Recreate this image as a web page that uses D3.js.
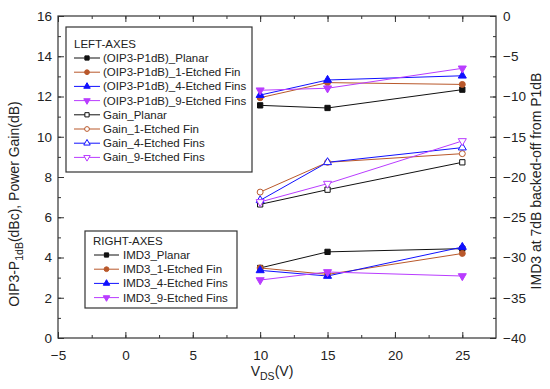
<!DOCTYPE html>
<html>
<head>
<meta charset="utf-8">
<script src="https://cdn.jsdelivr.net/npm/d3@7"></script>
<style>
  body { margin: 0; background: #fff; }
  svg text { font-family: Arial, "Liberation Sans", sans-serif; fill: #222; }
</style>
</head>
<body>
<div id="chart"></div>
<script>
// x values (V_DS)
const vds = [10, 15, 25];

// left axis series: OIP3-P1dB and gain
const oip3Planar = [11.56, 11.43, 12.34];
const oip3Fin1 = [11.94, 12.69, 12.60];
const oip3Fin4 = [12.07, 12.82, 13.03];
const oip3Fin9 = [12.31, 12.41, 13.40];
const gainPlanar = [6.64, 7.37, 8.73];
const gainFin1 = [7.25, 8.73, 9.16];
const gainFin4 = [6.84, 8.73, 9.46];
const gainFin9 = [6.76, 7.67, 9.79];

// right axis series: IMD3
const imd3Planar = [-31.3, -29.3, -28.9];
const imd3Fin1 = [-31.3, -32.1, -29.5];
const imd3Fin4 = [-31.6, -32.3, -28.7];
const imd3Fin9 = [-32.8, -31.8, -32.3];

const xTicks = [-5, 0, 5, 10, 15, 20, 25];
const leftTicks = [0, 2, 4, 6, 8, 10, 12, 14, 16];
const rightTicks = [0, -5, -10, -15, -20, -25, -30, -35, -40];

const BLACK = '#111', BROWN = '#b9582b', BLUE = '#1010ff', VIOLET = '#b93cff';

const leftSeries = [
  { name: '(OIP3-P1dB)_Planar', values: oip3Planar, color: BLACK, shape: 'square', filled: true },
  { name: '(OIP3-P1dB)_1-Etched Fin', values: oip3Fin1, color: BROWN, shape: 'circle', filled: true },
  { name: '(OIP3-P1dB)_4-Etched Fins', values: oip3Fin4, color: BLUE, shape: 'up', filled: true },
  { name: '(OIP3-P1dB)_9-Etched Fins', values: oip3Fin9, color: VIOLET, shape: 'down', filled: true },
  { name: 'Gain_Planar', values: gainPlanar, color: BLACK, shape: 'square', filled: false },
  { name: 'Gain_1-Etched Fin', values: gainFin1, color: BROWN, shape: 'circle', filled: false },
  { name: 'Gain_4-Etched Fins', values: gainFin4, color: BLUE, shape: 'up', filled: false },
  { name: 'Gain_9-Etched Fins', values: gainFin9, color: VIOLET, shape: 'down', filled: false }
];
const rightSeries = [
  { name: 'IMD3_Planar', values: imd3Planar, color: BLACK, shape: 'square', filled: true },
  { name: 'IMD3_1-Etched Fin', values: imd3Fin1, color: BROWN, shape: 'circle', filled: true },
  { name: 'IMD3_4-Etched Fins', values: imd3Fin4, color: BLUE, shape: 'up', filled: true },
  { name: 'IMD3_9-Etched Fins', values: imd3Fin9, color: VIOLET, shape: 'down', filled: true }
];

const width = 550, height = 389;
const margin = { top: 16, right: 54, bottom: 51, left: 58 };
const plotW = width - margin.left - margin.right;
const plotH = height - margin.top - margin.bottom;

const svg = d3.select('#chart').append('svg')
  .attr('width', width)
  .attr('height', height);

const g = svg.append('g')
  .attr('transform', `translate(${margin.left},${margin.top})`);

const x = d3.scaleLinear().domain([-5, 27.5]).range([0, plotW]);
const yL = d3.scaleLinear().domain([0, 16]).range([plotH, 0]);
const yR = d3.scaleLinear().domain([-40, 0]).range([plotH, 0]);

// marker path generator
function markerPath(shape, size) {
  let sym = {
    square: d3.symbolSquare,
    circle: d3.symbolCircle,
    up: d3.symbolTriangle,
    down: d3.symbolTriangle
  }[shape];
  return d3.symbol().type(sym).size(size)();
}

function drawMarker(sel, s, px, py, size) {
  sel.append('path')
    .attr('d', markerPath(s.shape, size))
    .attr('transform', `translate(${px},${py})` + (s.shape === 'down' ? ' rotate(180)' : ''))
    .attr('fill', s.filled ? s.color : '#fff')
    .attr('stroke', s.color)
    .attr('stroke-width', 1);
}

// axes: ticks pointing inward
const minorX = d3.range(-5, 27.5, 2.5);
const minorL = d3.range(0, 16.01, 1);
const minorR = d3.range(-40, 0.01, 2.5);

const axisG = g.append('g').attr('class', 'axes');

// bottom
axisG.append('g')
  .attr('transform', `translate(0,${plotH})`)
  .call(d3.axisBottom(x).tickValues(minorX).tickSize(-3).tickFormat(''))
  .call(a => a.select('.domain').remove());
axisG.append('g')
  .attr('transform', `translate(0,${plotH})`)
  .call(d3.axisBottom(x).tickValues(xTicks).tickSize(-6).tickPadding(10).tickFormat(d3.format('d')))
  .call(a => a.select('.domain').remove())
  .call(a => a.selectAll('text').attr('font-size', 13.5).attr('dy', '0.9em'));
// top
axisG.append('g')
  .call(d3.axisTop(x).tickValues(minorX).tickSize(-3).tickFormat(''))
  .call(a => a.select('.domain').remove());
axisG.append('g')
  .call(d3.axisTop(x).tickValues(xTicks).tickSize(-6).tickFormat(''))
  .call(a => a.select('.domain').remove());
// left
axisG.append('g')
  .call(d3.axisLeft(yL).tickValues(minorL).tickSize(-3).tickFormat(''))
  .call(a => a.select('.domain').remove());
axisG.append('g')
  .call(d3.axisLeft(yL).tickValues(leftTicks).tickSize(-6).tickPadding(6).tickFormat(d3.format('d')))
  .call(a => a.select('.domain').remove())
  .call(a => a.selectAll('text').attr('font-size', 13.5));
// right
axisG.append('g')
  .attr('transform', `translate(${plotW},0)`)
  .call(d3.axisRight(yR).tickValues(minorR).tickSize(-3).tickFormat(''))
  .call(a => a.select('.domain').remove());
axisG.append('g')
  .attr('transform', `translate(${plotW},0)`)
  .call(d3.axisRight(yR).tickValues(rightTicks).tickSize(-6).tickPadding(7).tickFormat(d3.format('d')))
  .call(a => a.select('.domain').remove())
  .call(a => a.selectAll('text').attr('font-size', 13.5));

axisG.selectAll('.tick line').attr('stroke', '#333');

// frame
g.append('rect')
  .attr('width', plotW).attr('height', plotH)
  .attr('fill', 'none').attr('stroke', '#333').attr('stroke-width', 1.2);

// series
const line = (yScale) => d3.line().x((d, i) => x(vds[i])).y(d => yScale(d));

function drawSeries(list, yScale) {
  list.forEach(s => {
    g.append('path')
      .datum(s.values)
      .attr('d', line(yScale))
      .attr('fill', 'none')
      .attr('stroke', s.color)
      .attr('stroke-width', 1);
  });
  list.forEach(s => {
    s.values.forEach((v, i) => drawMarker(g, s, x(vds[i]), yScale(v), 28));
  });
}
drawSeries(leftSeries, yL);
drawSeries(rightSeries, yR);

// legends
function drawLegend(title, list, lx, ly, w, h, lineX0, lineX1, textX, rowY0) {
  const lg = svg.append('g');
  lg.append('rect')
    .attr('x', lx).attr('y', ly).attr('width', w).attr('height', h)
    .attr('fill', '#fff').attr('stroke', '#333').attr('stroke-width', 1.2);
  lg.append('text')
    .attr('x', lx + 8).attr('y', rowY0 - 14 + 4)
    .attr('font-size', 11.5)
    .text(title);
  list.forEach((s, i) => {
    const yy = rowY0 + i * 14.2;
    lg.append('line')
      .attr('x1', lineX0).attr('x2', lineX1).attr('y1', yy).attr('y2', yy)
      .attr('stroke', s.color).attr('stroke-width', 1);
    drawMarker(lg, s, (lineX0 + lineX1) / 2, yy, 18);
    lg.append('text')
      .attr('x', textX).attr('y', yy + 4)
      .attr('font-size', 11.5)
      .attr('textLength', null)
      .text(s.name);
  });
}
drawLegend('LEFT-AXES', leftSeries, 66, 27, 186, 145, 74, 100, 103, 58);
drawLegend('RIGHT-AXES', rightSeries, 85, 231, 152, 77, 94, 119, 123, 255);

// axis titles
const lt = svg.append('text')
  .attr('transform', 'translate(19,204) rotate(-90)')
  .attr('text-anchor', 'middle')
  .attr('font-size', 14);
lt.append('tspan').text('OIP3-P');
lt.append('tspan').attr('font-size', 10.5).attr('dy', 4).text('1dB');
lt.append('tspan').attr('dy', -4).text('(dBc), Power Gain(dB)');

svg.append('text')
  .attr('transform', 'translate(541,181) rotate(-90)')
  .attr('text-anchor', 'middle')
  .attr('font-size', 14)
  .text('IMD3 at 7dB backed-off from P1dB');

const xt = svg.append('text')
  .attr('x', 272).attr('y', 376)
  .attr('text-anchor', 'middle')
  .attr('font-size', 14);
xt.append('tspan').text('V');
xt.append('tspan').attr('font-size', 10.5).attr('dy', 4).text('DS');
xt.append('tspan').attr('dy', -4).text('(V)');
</script>
</body>
</html>
